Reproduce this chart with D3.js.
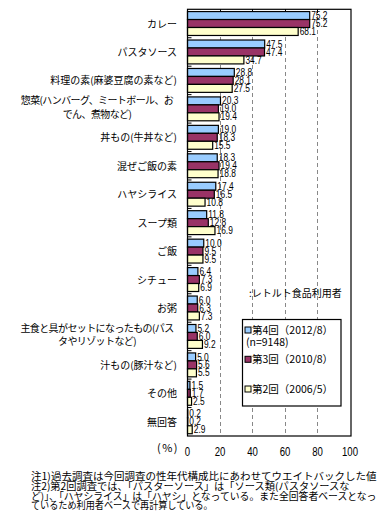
<!DOCTYPE html>
<html><head><meta charset="utf-8">
<script src="https://cdn.jsdelivr.net/npm/d3@7"></script>
<style>body{margin:0;background:#fff}svg{display:block}</style>
</head><body>
<svg id="c" width="379" height="531"></svg>
<script>
const categories = ["カレー","パスタソース","料理の素(麻婆豆腐の素など)","惣菜(ハンバーグ、ミートボール、お\nでん、煮物など)","丼もの(牛丼など)","混ぜご飯の素","ハヤシライス","スープ類","ご飯","シチュー","お粥","主食と具がセットになったもの(パス\nタやリゾットなど)","汁もの(豚汁など)","その他","無回答"];
const seriesNames = ["第4回（2012/8）","第3回（2010/8）","第2回（2006/5）"];
const s4 = [75.2,47.5,28.8,20.3,19.0,18.3,17.4,11.8,10.0,6.4,6.0,5.2,5.0,1.5,0.2];
const s3 = [75.2,47.4,28.1,19.0,18.3,19.4,16.5,12.8,9.5,7.3,6.3,6.0,5.6,1.7,0.2];
const s2 = [68.1,34.7,27.5,19.4,15.5,18.8,10.8,16.9,9.5,6.9,7.3,9.2,5.5,2.5,2.9];
const xTicks = [0,20,40,60,80,100];
const colors = ["#99ccff","#993366","#ffffcc"];
const notes = ["注1)過去調査は今回調査の性年代構成比にあわせてウエイトバックした値",
"注2)第2回調査では、「パスターソース」は「ソース類(パスタソースな",
"ど)」、「ハヤシライス」は「ハヤシ」となっている。また全回答者ベースとなっ",
"ているため利用者ベースで再計算している。"];

const svg = d3.select("#c");
const L=187.5, R=351, T=9.3, B=436;
const x = d3.scaleLinear().domain([0,100]).range([L,350]);
const y = d3.scaleBand().domain(categories).range([T,B]).paddingInner(0.16).paddingOuter(0.08);
const sub = d3.scaleBand().domain([0,1,2]).range([0,y.bandwidth()]);
const series=[s4,s3,s2];
const jp = "'Noto Sans CJK JP', sans-serif";

// grid
svg.append("g").selectAll("line").data(xTicks.filter(d=>d>0&&d<100)).join("line")
  .attr("x1",d=>x(d)).attr("x2",d=>x(d)).attr("y1",T).attr("y2",B)
  .attr("stroke","#888").attr("stroke-dasharray","4,3").attr("shape-rendering","crispEdges");
svg.append("g").selectAll("line").data(xTicks.filter(d=>d>0&&d<100)).join("line")
  .attr("x1",d=>x(d)).attr("x2",d=>x(d)).attr("y1",T).attr("y2",T+4)
  .attr("stroke","#000").attr("shape-rendering","crispEdges");

// bars
series.forEach((s,si)=>{
  const g=svg.append("g");
  g.selectAll("rect").data(s).join("rect")
    .attr("x",x(0)).attr("y",(d,i)=>y(categories[i])+sub(si))
    .attr("width",d=>x(d)-x(0)).attr("height",sub.bandwidth())
    .attr("fill",colors[si]).attr("stroke","#000").attr("stroke-width",1.2);
  g.selectAll("text").data(s).join("text")
    .attr("transform",(d,i)=>`translate(${x(d)+1.5},${y(categories[i])+sub(si)+sub.bandwidth()/2+3.6}) scale(0.8,1)`)
    .attr("font-family","'Liberation Sans', Arial, sans-serif").attr("font-size",10.5)
    .text(d=>d.toFixed(1));
});

// frame
svg.append("rect").attr("x",L).attr("y",T).attr("width",R-L).attr("height",B-T)
  .attr("fill","none").attr("stroke","#000").attr("stroke-width",1.2);
svg.append("g").selectAll("line").data(categories.slice(1)).join("line")
  .attr("x1",L).attr("x2",L+4)
  .attr("y1",d=>y(d)-y.step()*0.08).attr("y2",d=>y(d)-y.step()*0.08)
  .attr("stroke","#000");

// category labels
categories.forEach(c=>{
  const lines=c.split("\n");
  const cy=y(c)+y.bandwidth()/2;
  if(lines.length===1){
    svg.append("text").attr("x",177).attr("y",cy+4).attr("text-anchor","end")
      .attr("font-family",jp).attr("font-size",10).text(c);
  } else {
    const t=svg.append("text").attr("font-family",jp).attr("font-size",10)
      .attr("letter-spacing",-0.6).attr("text-anchor","middle");
    lines.forEach((ln,k)=>t.append("tspan").attr("x",97).attr("y",cy-4.5+k*13.5).text(ln));
  }
});

// x tick labels
svg.append("g").selectAll("text").data(xTicks).join("text")
  .attr("transform",d=>`translate(${x(d)},456) scale(0.8,1)`).attr("text-anchor","middle")
  .attr("font-family","'Liberation Sans', Arial, sans-serif").attr("font-size",12).text(d=>d);
svg.append("text").attr("x",157).attr("y",452).attr("font-family",jp).attr("font-size",11)
  .attr("letter-spacing",1.5).text("(%)");

// annotation
svg.append("text").attr("x",249).attr("y",297).attr("font-family",jp).attr("font-size",10).text(":レトルト食品利用者");

// legend
const lg=svg.append("g");
lg.append("rect").attr("x",242.5).attr("y",319.5).attr("width",98.5).attr("height",86.5)
  .attr("fill","#fff").attr("stroke","#000").attr("stroke-width",1.2);
const ly=[330,359.3,389];
seriesNames.forEach((n,i)=>{
  lg.append("rect").attr("x",245).attr("y",ly[i]-3).attr("width",6).attr("height",6)
    .attr("fill",colors[i]).attr("stroke","#000").attr("stroke-width",1);
  lg.append("text").attr("x",252).attr("y",ly[i]+4).attr("font-family",jp).attr("font-size",10.5).text(n);
});
lg.append("text").attr("x",246).attr("y",345.5).attr("font-family",jp).attr("font-size",10.5).text("(n=9148)");

// notes: each line scaled horizontally to the reference's width
const noteW=[346,319,346,182];
svg.append("g").selectAll("text").data(notes).join("text")
  .attr("font-family",jp).attr("font-size",10).text(d=>d)
  .attr("transform",(d,i)=>`translate(31,${480+i*9.8})`)
  .each(function(d,i){
    const w=this.getBBox().width || this.getComputedTextLength();
    const k=w>0?noteW[i]/w:1;
    d3.select(this).attr("transform",`translate(31,${480+i*9.8}) scale(${k},1)`);
  });
</script>
</body></html>
